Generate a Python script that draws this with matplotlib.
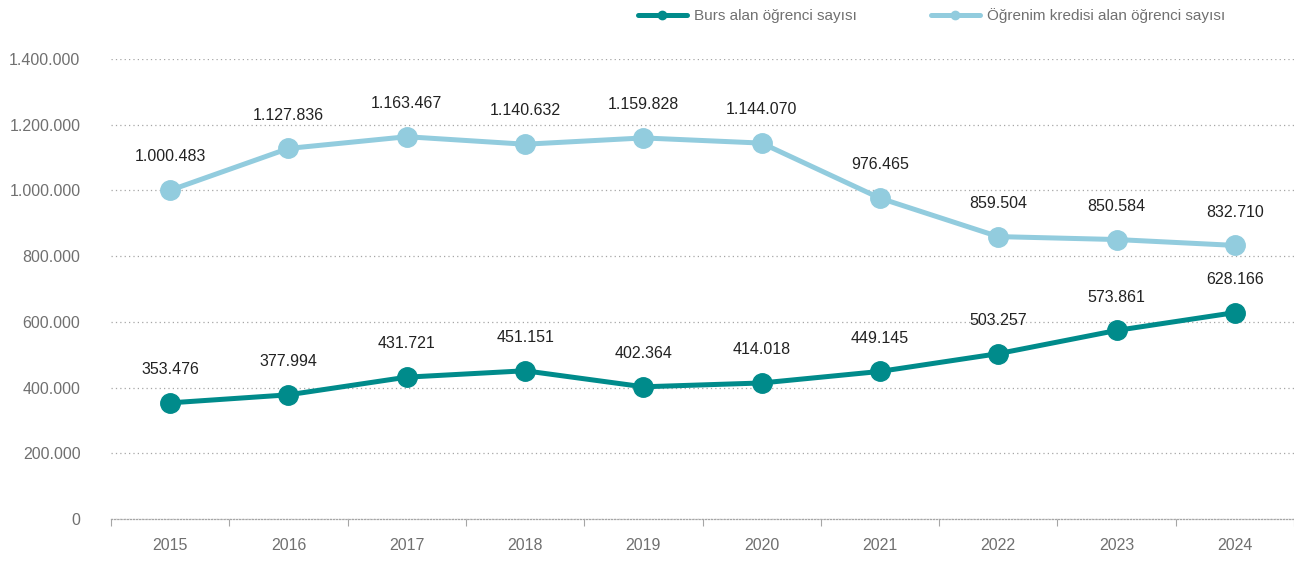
import matplotlib.pyplot as plt
import matplotlib.ticker as mticker
from matplotlib.lines import Line2D
import numpy as np

plt.rcParams['font.family'] = ['Liberation Sans Narrow', 'Liberation Sans', 'DejaVu Sans']

years = ['2015', '2016', '2017', '2018', '2019', '2020', '2021', '2022', '2023', '2024']
burs = [353476, 377994, 431721, 451151, 402364, 414018, 449145, 503257, 573861, 628166]
kredi = [1000483, 1127836, 1163467, 1140632, 1159828, 1144070, 976465, 859504, 850584, 832710]

burs_color = '#008B8B'
kredi_color = '#92CCDE'
grid_color = '#A6A6A6'
text_gray = '#707070'


def tr_format(v):
    return f'{int(round(v)):,}'.replace(',', '.')


fig = plt.figure(figsize=(12.94, 5.62), dpi=100)
ax = fig.add_axes([0.0858, 0.0765, 0.9142, 0.8185])

x = np.arange(len(years))
ax.plot(x, kredi, color=kredi_color, lw=3.6, marker='o', ms=14, solid_capstyle='round', zorder=3)
ax.plot(x, burs, color=burs_color, lw=3.6, marker='o', ms=14, solid_capstyle='round', zorder=3)

# değer etiketleri
for series in (burs, kredi):
    for xi, v in zip(x, series):
        ax.annotate(tr_format(v), (xi, v), xytext=(0, 24), textcoords='offset points',
                    ha='center', va='center', fontsize=11.5, color='#222222')

ax.set_xlim(-0.5, len(years) - 0.5)
ax.set_ylim(0, 1400000)
ax.set_xticks(x)
ax.set_xticklabels(years)
ax.set_xticks(np.arange(-0.5, len(years)), minor=True)
ax.set_yticks(np.arange(0, 1400001, 200000))
ax.yaxis.set_major_formatter(mticker.FuncFormatter(lambda v, p: tr_format(v)))

ax.tick_params(axis='x', which='major', length=0, pad=14, labelsize=11.5, labelcolor=text_gray)
ax.tick_params(axis='x', which='minor', length=5, color=grid_color, width=0.8)
ax.tick_params(axis='y', length=0, pad=22, labelsize=11.5, labelcolor=text_gray)
for t in ax.xaxis.get_minorticklines():
    t.set_linestyle((0, (1, 1.5)))

ax.grid(axis='y', color=grid_color, linestyle=(0, (1, 2.5)), lw=0.9)
ax.set_axisbelow(True)
for side in ('top', 'right', 'left'):
    ax.spines[side].set_visible(False)
ax.spines['bottom'].set_color(grid_color)
ax.spines['bottom'].set_linestyle((0, (1, 1.5)))
ax.spines['bottom'].set_linewidth(0.9)

leg_handles = [Line2D([], [], color=burs_color, lw=3.6, marker='o', ms=6, solid_capstyle='round'),
               Line2D([], [], color=kredi_color, lw=3.6, marker='o', ms=6, solid_capstyle='round')]
fig.legend(leg_handles, ['Burs alan öğrenci sayısı', 'Öğrenim kredisi alan öğrenci sayısı'],
           loc='center', bbox_to_anchor=(0.72, 0.972), ncol=2, frameon=False,
           handlelength=3.2, columnspacing=4.8, handletextpad=0.5,
           fontsize=11, labelcolor=text_gray)

fig.savefig('out.png', dpi=100)
plt.close(fig)
